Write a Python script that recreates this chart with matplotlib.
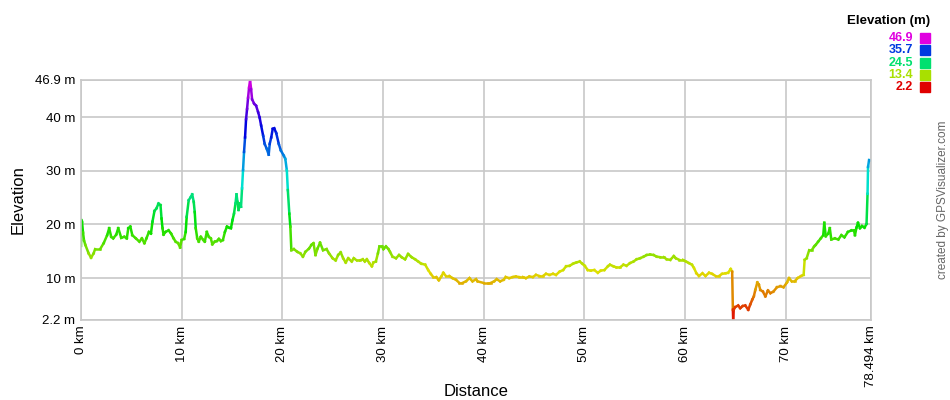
import numpy as np
import matplotlib
matplotlib.use("Agg")
import matplotlib.pyplot as plt
from matplotlib.collections import LineCollection
from matplotlib.colors import hsv_to_rgb

plt.rcParams['font.family'] = ['Liberation Sans', 'DejaVu Sans']

# track profile (km, m)
dist_km = [0.0, 0.03, 0.1, 0.2, 0.3, 0.43, 0.76, 1.0, 1.25, 1.4, 1.9, 2.25, 2.6, 2.8, 3.0, 3.2, 3.5,
           3.7, 4.0, 4.3, 4.55, 4.7, 4.9, 5.1, 5.45, 5.8, 6.05, 6.3, 6.5, 6.75, 6.95, 7.1, 7.3,
           7.5, 7.7, 7.9, 8.0, 8.1, 8.2, 8.4, 8.7, 8.95, 9.2, 9.4, 9.65, 9.85, 10.0, 10.25, 10.4,
           10.5, 10.7, 10.9, 11.05, 11.2, 11.3, 11.4, 11.55, 11.7, 11.9, 12.15, 12.3, 12.5, 12.7,
           12.9, 13.05, 13.3, 13.5, 13.7, 13.9, 14.1, 14.3, 14.5, 14.7, 14.9, 15.05, 15.2, 15.35,
           15.45, 15.55, 15.65, 15.8, 15.9, 16.0, 16.1, 16.2, 16.3, 16.4, 16.5, 16.6, 16.7, 16.8,
           16.9, 17.0, 17.2, 17.4, 17.6, 17.75, 17.9, 18.1, 18.25, 18.45, 18.65, 18.75, 18.9,
           19.05, 19.2, 19.4, 19.65, 19.85, 20.15, 20.3, 20.45, 20.55, 20.7, 20.8, 20.9, 21.15,
           21.5, 21.8, 22.05, 22.3, 22.65, 22.9, 23.1, 23.3, 23.5, 23.75, 24.05, 24.4, 24.65,
           25.0, 25.3, 25.55, 25.8, 26.05, 26.3, 26.55, 26.9, 27.1, 27.4, 27.7, 28.0, 28.2, 28.4,
           28.65, 28.9, 29.05, 29.3, 29.5, 29.65, 29.9, 30.05, 30.3, 30.55, 30.7, 30.95, 31.3,
           31.6, 31.85, 32.2, 32.5, 32.85, 33.2, 33.5, 33.8, 34.2, 34.5, 34.75, 35.0, 35.3, 35.55,
           35.8, 36.0, 36.25, 36.6, 36.9, 37.25, 37.6, 37.9, 38.25, 38.6, 38.9, 39.25, 39.4, 40.0,
           40.4, 40.7, 41.05, 41.3, 41.65, 42.0, 42.2, 42.55, 42.9, 43.2, 43.55, 43.9, 44.2, 44.55,
           44.9, 45.2, 45.55, 45.9, 46.2, 46.55, 46.9, 47.2, 47.55, 47.9, 48.2, 48.55, 48.9, 49.2,
           49.55, 49.8, 50.05, 50.35, 50.65, 51.0, 51.35, 51.65, 52.0, 52.35, 52.55, 52.9, 53.2,
           53.55, 53.9, 54.2, 54.55, 54.9, 55.2, 55.55, 55.9, 56.2, 56.55, 56.9, 57.2, 57.55,
           57.9, 58.2, 58.55, 58.9, 59.1, 59.45, 59.8, 60.1, 60.4, 60.7, 60.9, 61.15, 61.4, 61.75,
           62.05, 62.4, 62.7, 63.05, 63.4, 63.7, 64.05, 64.3, 64.55, 64.7, 64.77, 64.8, 64.85,
           65.0, 65.3, 65.5, 65.75, 66.0, 66.3, 66.5, 66.7, 66.85, 67.0, 67.2, 67.35, 67.5, 67.75,
           68.0, 68.25, 68.5, 68.8, 69.15, 69.5, 69.8, 70.15, 70.35, 70.6, 70.9, 71.2, 71.55,
           71.8, 71.9, 72.1, 72.35, 72.6, 72.85, 73.0, 73.25, 73.5, 73.75, 73.85, 74.0, 74.25,
           74.4, 74.55, 74.9, 75.25, 75.55, 75.85, 76.2, 76.55, 76.8, 76.9, 77.05, 77.2, 77.4,
           77.6, 77.85, 78.05, 78.15, 78.2, 78.3, 78.494]
elev_m = [16.0, 20.8, 20.5, 18.5, 17.0, 16.2, 14.6, 13.8, 14.6, 15.4, 15.4, 16.5, 18.0, 19.3, 17.7,
          17.4, 18.1, 19.3, 17.5, 17.7, 17.4, 19.3, 19.6, 18.0, 17.4, 16.8, 17.4, 16.5, 17.4, 18.6,
          18.3, 20.5, 22.5, 23.0, 23.9, 23.6, 21.1, 19.3, 18.1, 18.6, 18.9, 18.3, 17.4, 16.8, 16.5,
          15.7, 17.1, 17.3, 18.6, 21.4, 24.5, 25.1, 25.6, 24.2, 22.3, 19.3, 17.4, 16.8, 17.7, 17.1,
          16.8, 18.6, 17.7, 17.4, 16.3, 16.8, 16.9, 17.3, 16.9, 17.1, 18.6, 19.6, 19.4, 19.3, 20.8,
          22.0, 23.9, 25.6, 24.2, 22.7, 23.9, 23.3, 26.7, 30.1, 33.5, 36.2, 39.6, 41.5, 43.6, 45.5,
          46.9, 45.2, 43.3, 42.5, 42.1, 40.9, 39.9, 38.4, 36.5, 35.0, 34.1, 33.0, 35.0, 36.2, 37.8,
          37.9, 37.0, 35.0, 33.8, 32.8, 32.2, 30.1, 26.4, 22.0, 19.6, 15.2, 15.4, 14.9, 14.6, 14.0,
          14.9, 15.5, 16.2, 16.5, 14.3, 15.5, 16.6, 15.2, 15.4, 14.6, 13.7, 13.3, 14.3, 14.8, 13.7,
          12.9, 13.7, 13.1, 13.7, 13.3, 13.3, 13.5, 13.1, 13.5, 12.8, 12.2, 12.9, 13.1, 14.6, 15.9,
          15.9, 15.4, 15.9, 15.4, 14.9, 14.0, 13.7, 14.3, 13.9, 13.5, 14.5, 13.9, 13.5, 13.1, 12.7,
          12.5, 11.5, 10.8, 10.2, 10.2, 9.6, 10.3, 11.0, 10.4, 10.4, 10.0, 9.7, 9.1, 9.1, 9.4, 10.0,
          9.4, 9.8, 9.4, 9.1, 9.1, 9.1, 9.4, 9.8, 9.4, 9.7, 10.2, 10.0, 10.2, 10.3, 10.2, 10.2, 10.0,
          10.3, 10.2, 10.6, 10.4, 10.4, 10.8, 10.6, 10.8, 10.6, 11.2, 11.5, 12.2, 12.3, 12.7, 12.9,
          13.1, 12.7, 12.3, 11.5, 11.4, 11.5, 11.0, 11.4, 11.5, 12.2, 12.5, 12.2, 12.0, 12.0, 12.5,
          12.3, 12.8, 13.1, 13.5, 13.7, 14.0, 14.3, 14.4, 14.3, 14.0, 13.9, 13.9, 13.5, 13.4, 14.1,
          13.7, 13.4, 13.4, 13.1, 12.8, 12.5, 11.9, 10.9, 10.4, 10.9, 10.4, 11.0, 10.8, 10.4, 10.4,
          10.8, 10.9, 11.0, 11.7, 11.2, 4.1, 2.2, 4.1, 4.6, 4.9, 4.4, 4.8, 4.9, 4.1, 5.1, 6.0, 6.6,
          7.8, 9.2, 8.8, 7.8, 7.5, 6.6, 7.7, 7.2, 7.5, 8.3, 8.5, 8.3, 9.2, 10.0, 9.4, 9.4, 10.0,
          10.4, 10.6, 13.4, 13.7, 15.2, 15.2, 15.9, 16.2, 16.8, 17.4, 18.0, 20.3, 17.8, 18.3, 19.3,
          17.2, 17.4, 17.2, 18.0, 17.6, 18.6, 18.9, 18.9, 18.0, 19.4, 20.3, 19.3, 19.7, 19.4, 20.1,
          25.7, 30.7, 32.0, 32.0]

y_ticks = [2.2, 10, 20, 30, 40, 46.9]
x_ticks = [0, 10, 20, 30, 40, 50, 60, 70, 78.494]
legend_vals = [46.9, 35.7, 24.5, 13.4, 2.2]

e_min, e_max = 2.2, 46.9


def elev_color(v):
    # hue runs red -> magenta over the elevation range
    h = np.clip((v - e_min) / (e_max - e_min), 0, 1) * 300.0 / 360.0
    return hsv_to_rgb([h, 1.0, 0.88])


fig = plt.figure(figsize=(9.5, 4.0), dpi=100)
ax = fig.add_axes([81 / 950, 80 / 400, 790 / 950, 240 / 400])

x = np.array(dist_km)
y = np.array(elev_m)
pts = np.column_stack([x, y]).reshape(-1, 1, 2)
segs = np.concatenate([pts[:-1], pts[1:]], axis=1)
mid = (y[:-1] + y[1:]) / 2
lc = LineCollection(segs, colors=[elev_color(v) for v in mid], linewidths=1.8,
                    capstyle='projecting', joinstyle='miter')
ax.add_collection(lc)

ax.set_xlim(0, 78.494)
ax.set_ylim(e_min, e_max)
ax.set_yticks(y_ticks)
ax.set_yticklabels([f"{t:g} m" for t in y_ticks], fontsize=9.5)
ax.set_xticks(x_ticks)
ax.set_xticklabels([f"{t:g} km" for t in x_ticks], fontsize=9.5, rotation=90, va='top')
ax.tick_params(length=0, pad=4, colors='#000000')
ax.grid(True, color='#c8c8c8', linewidth=1.2)
ax.set_axisbelow(True)
for s in ax.spines.values():
    s.set_color('#c8c8c8')
    s.set_linewidth(1.2)

fig.text(18 / 950, 1 - 200 / 400, "Elevation", rotation=90, fontsize=12, ha='center', va='center')
fig.text(476 / 950, 1 - 392 / 400, "Distance", fontsize=12, ha='center', va='center')

# colour legend in the top right corner
fig.text(930 / 950, 1 - 21 / 400, "Elevation (m)", fontsize=9.5, fontweight='bold', ha='right', va='center')
for i, v in enumerate(legend_vals):
    yy = 1 - (38 + i * 12.3) / 400
    c = elev_color(v)
    fig.text(913 / 950, yy, f"{v:g}", fontsize=9, fontweight='bold', color=c, ha='right', va='center')
    fig.patches.append(plt.Rectangle((920 / 950, yy - 5 / 400), 10 / 950, 10 / 400,
                                     transform=fig.transFigure, color=c, figure=fig))

fig.text(943 / 950, 1 - 200 / 400, "created by GPSVisualizer.com", rotation=90, fontsize=8.5,
         color='#666666', ha='center', va='center')

fig.savefig("out.png", dpi=100)
